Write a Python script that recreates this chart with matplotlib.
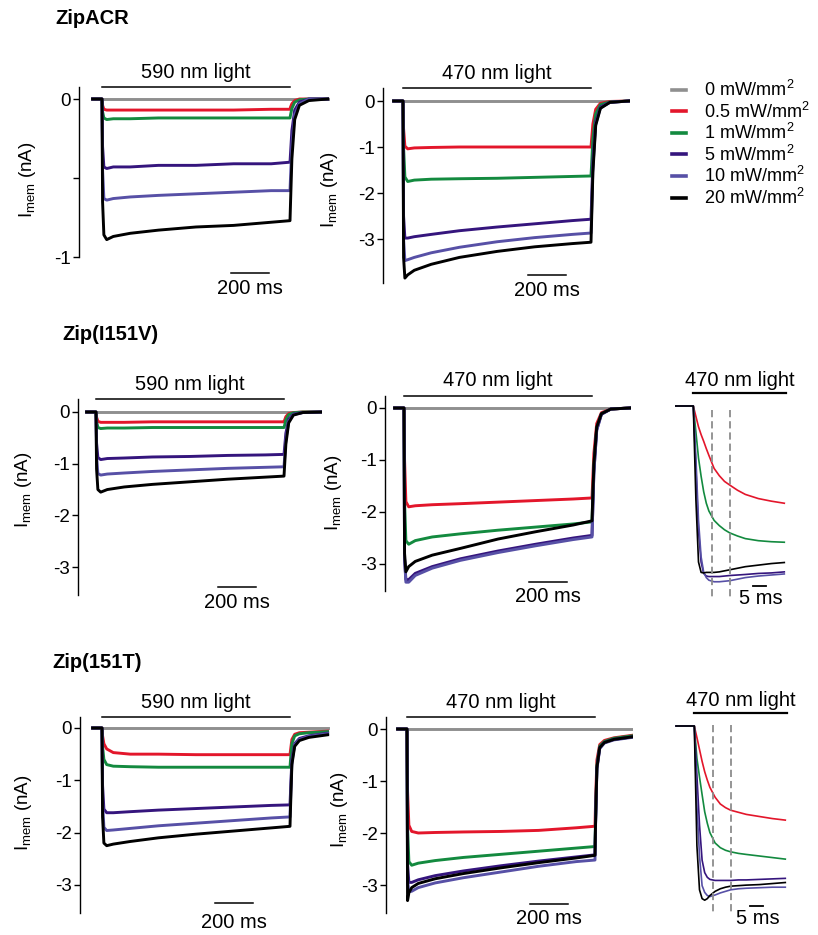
import matplotlib.pyplot as plt
from matplotlib.transforms import blended_transform_factory

plt.rcParams['font.family'] = ['Liberation Sans', 'DejaVu Sans']
plt.rcParams['axes.unicode_minus'] = False
plt.rcParams['mathtext.default'] = 'regular'

W, H = 818, 935

# ------------------------------------------------------------
# data (current in nA, time in ms)
# ------------------------------------------------------------
LEVELS = ['0 mW/mm$^2$', '0.5 mW/mm$^2$', '1 mW/mm$^2$',
          '5 mW/mm$^2$', '10 mW/mm$^2$', '20 mW/mm$^2$']
COLORS = ['#8f8f8f', '#e3162b', '#138a3f', '#35157d', '#5750a6', '#000000']

# 1 s light pulse, rows: 0, 0.5, 1, 5, 10, 20 mW/mm2
T_LONG = [-50, 0, 3, 10, 25, 60, 150, 300, 500, 700, 900, 1000,
          1003, 1010, 1025, 1050, 1100, 1200]

ACR_590 = [
    [0] * 18,
    [0, 0, -0.04, -0.065, -0.07, -0.07, -0.07, -0.07, -0.07, -0.07, -0.065, -0.065, -0.05, -0.03, -0.01, 0, 0, 0],
    [0, 0, -0.08, -0.12, -0.13, -0.125, -0.125, -0.12, -0.12, -0.12, -0.12, -0.12, -0.10, -0.06, -0.02, -0.005, 0, 0],
    [0, 0, -0.30, -0.43, -0.44, -0.43, -0.43, -0.42, -0.42, -0.41, -0.41, -0.40, -0.34, -0.20, -0.07, -0.02, 0, 0],
    [0, 0, -0.45, -0.63, -0.64, -0.63, -0.62, -0.61, -0.60, -0.59, -0.58, -0.58, -0.49, -0.29, -0.10, -0.03, 0, 0],
    [0, 0, -0.65, -0.86, -0.89, -0.87, -0.85, -0.83, -0.81, -0.80, -0.78, -0.77, -0.65, -0.38, -0.13, -0.04, -0.01, 0],
]
ACR_470 = [
    [0] * 18,
    [0, 0, -0.6, -0.98, -1.04, -1.02, -1.01, -1.0, -1.0, -1.0, -1.0, -1.0, -0.85, -0.5, -0.18, -0.05, -0.01, 0],
    [0, 0, -1.0, -1.65, -1.75, -1.72, -1.70, -1.69, -1.68, -1.66, -1.64, -1.63, -1.4, -0.82, -0.28, -0.08, -0.02, 0],
    [0, 0, -2.5, -2.98, -2.98, -2.95, -2.90, -2.82, -2.74, -2.67, -2.60, -2.57, -2.2, -1.3, -0.45, -0.13, -0.03, 0],
    [0, 0, -3.0, -3.47, -3.45, -3.40, -3.30, -3.18, -3.06, -2.97, -2.90, -2.87, -2.45, -1.45, -0.5, -0.15, -0.03, 0],
    [0, 0, -3.4, -3.85, -3.78, -3.68, -3.55, -3.40, -3.27, -3.17, -3.10, -3.07, -2.62, -1.55, -0.53, -0.16, -0.03, 0],
]
I151V_590 = [
    [0] * 18,
    [0, 0, -0.10, -0.18, -0.20, -0.20, -0.20, -0.19, -0.19, -0.19, -0.19, -0.19, -0.16, -0.09, -0.03, -0.01, 0, 0],
    [0, 0, -0.18, -0.30, -0.32, -0.31, -0.31, -0.30, -0.30, -0.30, -0.30, -0.30, -0.26, -0.15, -0.05, -0.015, 0, 0],
    [0, 0, -0.60, -0.88, -0.92, -0.90, -0.89, -0.87, -0.86, -0.84, -0.83, -0.82, -0.70, -0.41, -0.14, -0.04, -0.01, 0],
    [0, 0, -0.85, -1.19, -1.22, -1.20, -1.18, -1.15, -1.12, -1.09, -1.07, -1.06, -0.90, -0.53, -0.18, -0.05, -0.01, 0],
    [0, 0, -1.10, -1.50, -1.55, -1.50, -1.45, -1.40, -1.35, -1.30, -1.26, -1.24, -1.05, -0.62, -0.21, -0.06, -0.01, 0],
]
I151V_470 = [
    [0] * 18,
    [0, 0, -1.0, -1.80, -1.90, -1.88, -1.86, -1.84, -1.81, -1.78, -1.75, -1.73, -1.47, -0.87, -0.30, -0.09, -0.02, 0],
    [0, 0, -1.8, -2.55, -2.62, -2.55, -2.48, -2.42, -2.35, -2.29, -2.23, -2.19, -1.86, -1.10, -0.38, -0.11, -0.02, 0],
    [0, 0, -2.9, -3.30, -3.30, -3.18, -3.05, -2.90, -2.75, -2.62, -2.50, -2.45, -2.08, -1.23, -0.42, -0.12, -0.02, 0],
    [0, 0, -2.9, -3.35, -3.35, -3.22, -3.08, -2.93, -2.78, -2.65, -2.53, -2.48, -2.10, -1.24, -0.43, -0.12, -0.02, 0],
    [0, 0, -2.8, -3.15, -3.05, -2.95, -2.83, -2.70, -2.52, -2.38, -2.25, -2.17, -1.84, -1.09, -0.37, -0.11, -0.02, 0],
]
I151T_590 = [
    [0] * 18,
    [0, 0, -0.15, -0.30, -0.40, -0.47, -0.50, -0.50, -0.51, -0.51, -0.51, -0.51, -0.42, -0.22, -0.12, -0.09, -0.08, -0.06],
    [0, 0, -0.35, -0.60, -0.70, -0.73, -0.74, -0.75, -0.75, -0.75, -0.75, -0.75, -0.60, -0.30, -0.15, -0.11, -0.09, -0.07],
    [0, 0, -1.10, -1.55, -1.62, -1.62, -1.60, -1.57, -1.54, -1.51, -1.48, -1.47, -1.20, -0.60, -0.30, -0.20, -0.15, -0.10],
    [0, 0, -1.40, -1.90, -1.96, -1.95, -1.92, -1.87, -1.82, -1.77, -1.72, -1.70, -1.35, -0.65, -0.32, -0.22, -0.16, -0.11],
    [0, 0, -1.70, -2.20, -2.25, -2.22, -2.17, -2.10, -2.03, -1.97, -1.91, -1.88, -1.50, -0.70, -0.35, -0.24, -0.18, -0.13],
]
I151T_470 = [
    [0] * 18,
    [0, 0, -1.2, -1.85, -1.97, -2.00, -1.99, -1.98, -1.97, -1.95, -1.90, -1.87, -1.40, -0.60, -0.30, -0.22, -0.17, -0.12],
    [0, 0, -1.9, -2.55, -2.62, -2.58, -2.53, -2.47, -2.41, -2.35, -2.29, -2.26, -1.70, -0.70, -0.33, -0.24, -0.18, -0.13],
    [0, 0, -2.6, -2.95, -2.95, -2.90, -2.82, -2.73, -2.63, -2.54, -2.46, -2.42, -1.80, -0.75, -0.36, -0.26, -0.20, -0.15],
    [0, 0, -2.9, -3.13, -3.12, -3.05, -2.96, -2.86, -2.75, -2.64, -2.55, -2.52, -1.85, -0.78, -0.38, -0.27, -0.21, -0.16],
    [0, 0, -3.3, -3.15, -3.05, -2.97, -2.88, -2.78, -2.67, -2.57, -2.48, -2.43, -1.80, -0.75, -0.36, -0.26, -0.20, -0.15],
]

# onset close-ups, rows: 0.5, 1, 5, 10, 20 mW/mm2
T_ZOOM = [-7, 0, 1, 2, 3, 4, 5, 6, 8, 10, 12, 14, 17, 20, 25, 30, 35]
DASH_T = [7, 14]

I151V_ZOOM = [
    [0, 0, -0.2, -0.4, -0.55, -0.68, -0.82, -0.95, -1.2, -1.34, -1.45, -1.52, -1.62, -1.7, -1.78, -1.83, -1.87],
    [0, 0, -0.5, -1.0, -1.35, -1.65, -1.87, -2.02, -2.2, -2.3, -2.38, -2.44, -2.5, -2.55, -2.59, -2.61, -2.62],
    [0, 0, -1.2, -2.4, -3.0, -3.22, -3.27, -3.28, -3.28, -3.28, -3.27, -3.26, -3.25, -3.24, -3.22, -3.21, -3.19],
    [0, 0, -1.0, -2.2, -2.9, -3.2, -3.3, -3.35, -3.38, -3.38, -3.37, -3.36, -3.33, -3.3, -3.27, -3.25, -3.23],
    [0, 0, -1.8, -3.0, -3.2, -3.21, -3.2, -3.2, -3.2, -3.19, -3.17, -3.15, -3.12, -3.09, -3.06, -3.03, -3.01],
]
I151T_ZOOM = [
    [0, 0, -0.22, -0.45, -0.68, -0.88, -1.04, -1.18, -1.37, -1.5, -1.57, -1.62, -1.66, -1.7, -1.74, -1.78, -1.81],
    [0, 0, -0.62, -0.98, -1.32, -1.65, -1.87, -2.05, -2.25, -2.34, -2.39, -2.42, -2.45, -2.47, -2.5, -2.53, -2.56],
    [0, 0, -0.95, -1.9, -2.58, -2.82, -2.91, -2.95, -2.97, -2.97, -2.97, -2.97, -2.96, -2.96, -2.95, -2.94, -2.93],
    [0, 0, -1.5, -2.5, -3.07, -3.2, -3.26, -3.28, -3.25, -3.21, -3.18, -3.15, -3.13, -3.12, -3.11, -3.1, -3.1],
    [0, 0, -2.3, -3.15, -3.32, -3.35, -3.32, -3.26, -3.18, -3.13, -3.1, -3.08, -3.07, -3.06, -3.05, -3.03, -3.01],
]

YLABEL = 'I$_{mem}$ (nA)'
TICKS_1 = [0, -0.5, -1]
TICKS_3 = [0, -1, -2, -3]

# ------------------------------------------------------------
# layout helpers (pixel geometry of the original figure)
# ------------------------------------------------------------
PX_MS_LONG = 0.188
PX_MS_ZOOM = 2.6
PT = 0.72  # points per pixel at dpi 100

fig = plt.figure(figsize=(W / 100, H / 100), dpi=100)


def px_axes(left, top, right, bottom):
    return fig.add_axes([left / W, 1 - bottom / H, (right - left) / W, (bottom - top) / H])


def clean(ax):
    for s in ('top', 'right', 'bottom'):
        ax.spines[s].set_visible(False)
    ax.set_xticks([])
    ax.patch.set_alpha(0)


def long_panel(traces, box, onset, zero, px_na, ticks, light, bar, ylab):
    left, top, right, bottom = box
    ax = px_axes(*box)
    clean(ax)
    lines = []
    for vals, c in zip(traces, COLORS):
        ln, = ax.plot(T_LONG, vals, color=c, lw=2.1, solid_joinstyle='round')
        lines.append(ln)
    ax.set_xlim((left - onset) / PX_MS_LONG, (right - onset) / PX_MS_LONG)
    ax.set_ylim((zero - bottom) / px_na, (zero - top) / px_na)
    ax.set_yticks(ticks)
    ax.set_yticklabels(['' if t == -0.5 else f'{t:g}' for t in ticks])
    ax.spines['left'].set_linewidth(1.0)
    ax.tick_params(axis='y', length=4, width=1.0, labelsize=13.5, pad=2)

    blend = blended_transform_factory(ax.transData, ax.transAxes)
    ax.plot([0, 1000], [1, 1], color='black', lw=1.1, transform=blend, clip_on=False)
    ax.annotate(light, xy=(500, 1), xycoords=blend, xytext=(0, 15 * PT),
                textcoords='offset points', ha='center', va='center', fontsize=14.5,
                annotation_clip=False)

    bx, by, gap = bar
    t0 = (bx - onset) / PX_MS_LONG
    yb = (zero - by) / px_na
    ax.plot([t0, t0 + 200], [yb, yb], color='black', lw=1.1, clip_on=False)
    ax.annotate('200 ms', xy=(t0 + 100, yb), xytext=(0, -gap * PT),
                textcoords='offset points', ha='center', va='center', fontsize=14.5,
                annotation_clip=False)

    ax.set_ylabel(YLABEL, fontsize=13.5, va='center')
    ax.yaxis.set_label_coords((ylab[0] - left) / (right - left),
                              1 - (ylab[1] - top) / (bottom - top))
    return lines


def zoom_panel(traces, box, onset, zero, px_na, light_y, dash_px, bar):
    left, top, right, bottom = box
    ax = px_axes(*box)
    ax.axis('off')
    for vals, c in zip(traces, COLORS[1:]):
        ax.plot(T_ZOOM, vals, color=c, lw=1.2)
    ax.set_xlim((left - onset) / PX_MS_ZOOM, (right - onset) / PX_MS_ZOOM)
    ax.set_ylim((zero - bottom) / px_na, (zero - top) / px_na)

    yl = (zero - light_y) / px_na
    t_end = T_ZOOM[-1] + 0.5
    ax.plot([0, t_end], [yl, yl], color='black', lw=1.6, clip_on=False)
    ax.annotate('470 nm light', xy=(t_end / 2, yl), xytext=(0, 12 * PT),
                textcoords='offset points', ha='center', va='center', fontsize=14.5,
                annotation_clip=False)

    y0, y1 = [(zero - p) / px_na for p in dash_px]
    for t in DASH_T:
        ax.plot([t, t], [y0, y1], color='#8c8c8c', lw=1.3, ls=(0, (4, 2.2)), clip_on=False)

    bx, by, gap = bar
    t0 = (bx - onset) / PX_MS_ZOOM
    yb = (zero - by) / px_na
    ax.plot([t0, t0 + 5], [yb, yb], color='black', lw=1.3, clip_on=False)
    ax.annotate('5 ms', xy=(t0 + 3, yb), xytext=(0, -gap * PT),
                textcoords='offset points', ha='center', va='center', fontsize=14.5,
                annotation_clip=False)


# ------------------------------------------------------------
# row 1: ZipACR
# ------------------------------------------------------------
fig.text(55 / W, 1 - 18 / H, 'ZipACR', fontsize=14.5, fontweight='bold', va='center')
long_panel(ACR_590, (79, 87, 330, 257), 102, 99, 158, TICKS_1, '590 nm light',
           (231, 273, 15), (28, 180))
handles = long_panel(ACR_470, (383, 88, 630, 283), 403, 101, 46, TICKS_3, '470 nm light',
                     (528, 275, 15), (330, 190))

leg = fig.legend(handles, LEVELS, loc='upper left', bbox_to_anchor=(672 / W, 1 - 80 / H),
                 frameon=False, fontsize=13, handlelength=0.8, handletextpad=0.95,
                 labelspacing=0.08, borderpad=0, borderaxespad=0)
for ln in leg.get_lines():
    ln.set_linewidth(2.6)

# ------------------------------------------------------------
# row 2: Zip(I151V)
# ------------------------------------------------------------
fig.text(62 / W, 1 - 335 / H, 'Zip(I151V)', fontsize=14.5, fontweight='bold', va='center')
long_panel(I151V_590, (78, 399, 322, 595), 96, 412, 51.7, TICKS_3, '590 nm light',
           (218, 587, 16), (23, 490))
long_panel(I151V_470, (385, 396, 631, 591), 404, 408, 52, TICKS_3, '470 nm light',
           (529, 582, 15), (333, 493))
zoom_panel(I151V_ZOOM, (675, 396, 787, 591), 693.3, 406, 52, 393, (410, 597), (753, 586, 13))

# ------------------------------------------------------------
# row 3: Zip(151T)
# ------------------------------------------------------------
fig.text(52 / W, 1 - 663 / H, 'Zip(151T)', fontsize=14.5, fontweight='bold', va='center')
long_panel(I151T_590, (80, 717, 330, 913), 102, 728, 52.3, TICKS_3, '590 nm light',
           (215, 903, 19), (23, 813))
long_panel(I151T_470, (386, 717, 633, 913), 407, 729, 52, TICKS_3, '470 nm light',
           (530, 904, 14), (340, 810))
zoom_panel(I151T_ZOOM, (675, 717, 790, 913), 694.3, 726, 52, 713, (725, 912), (750, 906, 12))

fig.savefig('out.png', dpi=100)
